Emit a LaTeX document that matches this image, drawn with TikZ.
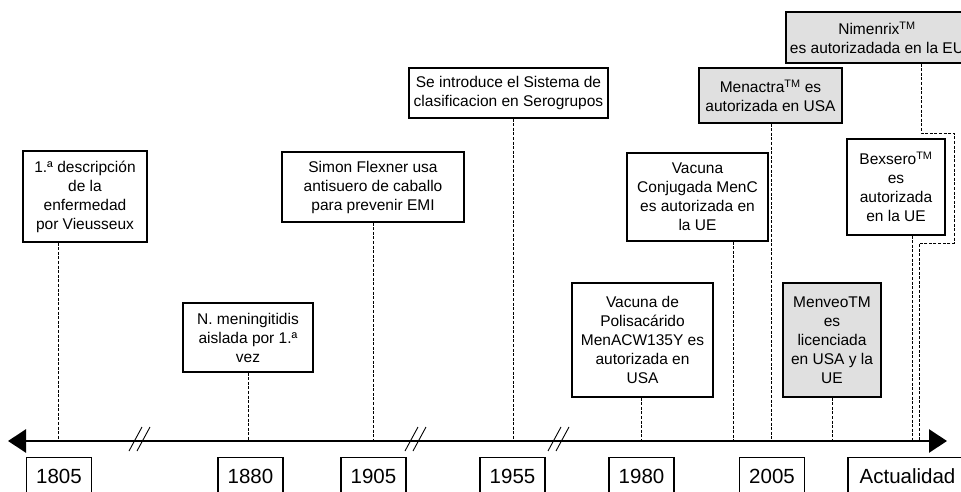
\documentclass[tikz,border=0pt]{standalone}
\usepackage{fontspec}
\setmainfont{Liberation Sans}
\usetikzlibrary{arrows.meta}
\tikzset{
  evbox/.style={draw=black, line width=1.1pt, fill=white, align=center, inner sep=0pt,
    font=\fontsize{15.5}{19}\selectfont},
  graybox/.style={evbox, fill=black!12},
  yearbox/.style={draw=black, line width=1.1pt, inner sep=0pt, anchor=north,
    minimum width=65pt, minimum height=37pt, font=\fontsize{20.5}{24}\selectfont},
  conn/.style={line width=0.9pt, dash pattern=on 3pt off 1.6pt},
  axisline/.style={line width=2.7pt, {Triangle[length=18pt,width=23pt]}-{Triangle[length=18pt,width=23pt]}},
  brk/.style={line width=0.9pt},
}
\begin{document}
\begin{tikzpicture}[x=1pt,y=-1pt]
\useasboundingbox (0,0) rectangle (961,492);
\clip (0,0) rectangle (961,492);
\fill[white] (0,0) rectangle (961,492);

% event boxes
\node[evbox, minimum width=124pt, minimum height=91pt] (desc) at (85,196.5)
  {1.ª descripción\\de la\\enfermedad\\por Vieusseux};
\node[evbox, minimum width=130pt, minimum height=69pt] (nmen) at (248,337.5)
  {N. meningitidis\\aislada por 1.ª\\vez};
\node[evbox, minimum width=182pt, minimum height=70pt] (flex) at (373,187)
  {Simon Flexner usa\\antisuero de caballo\\para prevenir EMI};
\node[evbox, minimum width=199pt, minimum height=50pt] (sero) at (508.5,93)
  {Se introduce el Sistema de\\clasificacion en Serogrupos};
\node[evbox, minimum width=141pt, minimum height=114pt] (poli) at (642.5,340)
  {Vacuna de\\Polisacárido\\MenACW135Y es\\autorizada en\\USA};
\node[evbox, minimum width=141pt, minimum height=88pt] (conj) at (697.5,197)
  {Vacuna\\Conjugada MenC\\es autorizada en\\la UE};
\node[graybox, minimum width=143pt, minimum height=55pt] (menac) at (770.5,95.5)
  {Menactra\textsuperscript{TM} es\\autorizada en USA};
\node[graybox, minimum width=182pt, minimum height=51pt] (nim) at (877,37.5)
  {Nimenrix\textsuperscript{TM}\\es autorizadada en la EU};
\node[evbox, minimum width=98pt, minimum height=96pt] (bex) at (896,187)
  {Bexsero\textsuperscript{TM}\\es\\autorizada\\en la UE};
\node[graybox, minimum width=98pt, minimum height=114pt] (menv) at (832,340)
  {MenveoTM\\es\\licenciada\\en USA y la\\UE};

% axis coordinates
\coordinate (axL) at (8,441);
\coordinate (axR) at (947,441);
\coordinate (t1) at (58,441);
\coordinate (t2) at (248,441);
\coordinate (t3) at (373,441);
\coordinate (t4) at (513,441);
\coordinate (t5) at (641,441);
\coordinate (t6) at (733,441);
\coordinate (t7) at (771,441);
\coordinate (t10) at (832,441);
\coordinate (t9) at (912,441);
\coordinate (n1) at (921,133);
\coordinate (n2) at (954,133);
\coordinate (n3) at (954,243);
\coordinate (n4) at (919,243);
\coordinate (t8) at (919,441);

% connectors
\draw[conn] (desc.south -| t1) -- (t1);
\draw[conn] (nmen.south -| t2) -- (t2);
\draw[conn] (flex.south -| t3) -- (t3);
\draw[conn] (sero.south -| t4) -- (t4);
\draw[conn] (poli.south -| t5) -- (t5);
\draw[conn] (conj.south -| t6) -- (t6);
\draw[conn] (menac.south -| t7) -- (t7);
\draw[conn] (menv.south -| t10) -- (t10);
\draw[conn] (bex.south -| t9) -- (t9);
\draw[conn] (nim.south -| n1) -- (n1) -- (n2) -- (n3) -- (n4) -- (t8);

% axis
\draw[axisline] (axL) -- (axR);

% break marks
\foreach \bx in {129,405,548}{
  \draw[brk] (\bx,451) -- ++(13,-24);
  \draw[brk] (\bx+8,451) -- ++(13,-24);
}

% year boxes
\node[yearbox] (y1805) at (59,457) {1805};
\node[yearbox] (y1880) at (250.5,457) {1880};
\node[yearbox] (y1905) at (373.5,457) {1905};
\node[yearbox] (y1955) at (512.5,457) {1955};
\node[yearbox] (y1980) at (641.5,457) {1980};
\node[yearbox] (y2005) at (772,457) {2005};
\node[yearbox, minimum width=119pt] (yact) at (907.5,457) {Actualidad};
\end{tikzpicture}
\end{document}
